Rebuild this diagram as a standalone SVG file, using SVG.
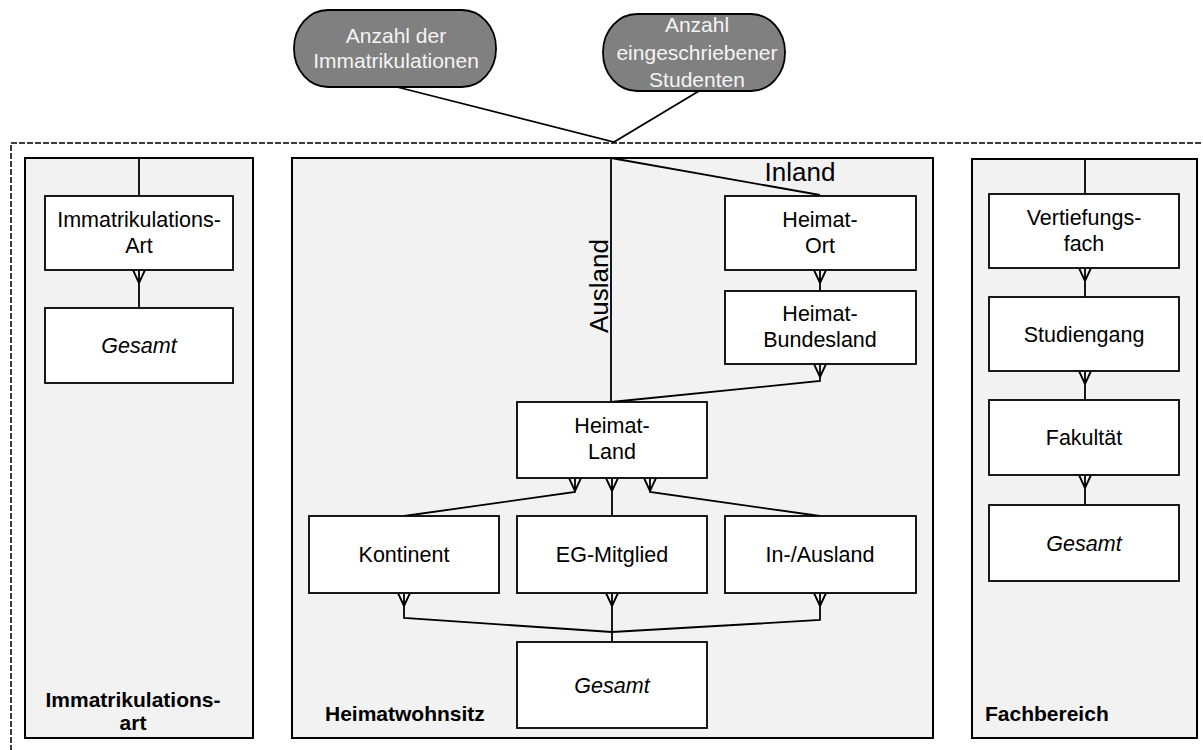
<svg xmlns="http://www.w3.org/2000/svg" width="1203" height="750" viewBox="0 0 1203 750">
  <style>
    .panel { fill: #f2f2f2; stroke: #000; stroke-width: 2; }
    .box { fill: #fff; stroke: #000; stroke-width: 1.8; }
    .measure { fill: #808080; stroke: #000; stroke-width: 1.8; }
    .t { font-family: "Liberation Sans", Arial, sans-serif; font-size: 21.5px; fill: #000; text-anchor: middle; }
    .it { font-style: italic; }
    .mt { fill: #f4f4f4; font-size: 21px; }
    .lbl { font-family: "Liberation Sans", Arial, sans-serif; font-size: 21px; font-weight: bold; fill: #000; }
    .big { font-family: "Liberation Sans", Arial, sans-serif; font-size: 26px; fill: #000; text-anchor: middle; }
    .ln { fill: none; stroke: #000; stroke-width: 1.8; }
    .cube { fill: none; stroke: #000; stroke-width: 1.5; stroke-dasharray: 6 2; }
  </style>

  <!-- cube boundary -->
  <rect class="cube" x="11" y="143" width="1200" height="620"/>

  <!-- dimension panels -->
  <g id="dim-immatrikulationsart">
    <rect class="panel" x="25" y="158" width="228" height="580"/>
    <text class="lbl" x="133" y="707" text-anchor="middle">Immatrikulations-</text>
    <text class="lbl" x="133" y="730" text-anchor="middle">art</text>
  </g>
  <g id="dim-heimatwohnsitz">
    <rect class="panel" x="292" y="158" width="641" height="580"/>
    <text class="lbl" x="325" y="721">Heimatwohnsitz</text>
  </g>
  <g id="dim-fachbereich">
    <rect class="panel" x="972" y="159" width="225" height="579"/>
    <text class="lbl" x="985" y="721">Fachbereich</text>
  </g>

  <!-- connectors -->
  <g id="connectors">
    <!-- measures to cube -->
    <path class="ln" d="M397 87 L614 142 L699 91"/>
    <!-- Immatrikulationsart -->
    <path class="ln" d="M139 158 V196"/>
    <path class="ln" d="M139 270 V308 M133 270 L139 283 L145 270"/>
    <!-- Heimatwohnsitz: Ausland / Inland -->
    <path class="ln" d="M611 158 V402"/>
    <path class="ln" d="M611 158 L820 195"/>
    <path class="ln" d="M820 270 V291 M814 270 L820 283 L826 270"/>
    <path class="ln" d="M820 364 V381 L611 402 M814 364 L820 377 L826 364"/>
    <!-- Heimat-Land to groupings -->
    <path class="ln" d="M575 478 V492 L404 516 M569 478 L575 491 L581 478"/>
    <path class="ln" d="M612 478 V516 M606 478 L612 491 L618 478"/>
    <path class="ln" d="M650 478 V492 L820 516 M644 478 L650 491 L656 478"/>
    <!-- groupings to Gesamt -->
    <path class="ln" d="M404 593 V618 L612 632 M398 593 L404 606 L410 593"/>
    <path class="ln" d="M612 593 V642 M606 593 L612 606 L618 593"/>
    <path class="ln" d="M820 593 V620 L612 632 M814 593 L820 606 L826 593"/>
    <!-- Fachbereich -->
    <path class="ln" d="M1085 159 V194"/>
    <path class="ln" d="M1085 268 V297 M1079 268 L1085 281 L1091 268"/>
    <path class="ln" d="M1085 371 V400 M1079 371 L1085 384 L1091 371"/>
    <path class="ln" d="M1085 475 V505 M1079 475 L1085 488 L1091 475"/>
  </g>

  <!-- edge labels -->
  <text class="big" x="800" y="181">Inland</text>
  <text class="big" transform="translate(608 286) rotate(-90)">Ausland</text>

  <!-- measures -->
  <g id="m-immatrikulationen">
    <rect class="measure" x="294" y="10" width="202" height="77" rx="34" ry="38"/>
    <text class="t mt" x="396" y="43">Anzahl der</text>
    <text class="t mt" x="396" y="68">Immatrikulationen</text>
  </g>
  <g id="m-studenten">
    <rect class="measure" x="603" y="14" width="182" height="77" rx="34" ry="38"/>
    <text class="t mt" x="697" y="32">Anzahl</text>
    <text class="t mt" x="697" y="60">eingeschriebener</text>
    <text class="t mt" x="697" y="87">Studenten</text>
  </g>

  <!-- Immatrikulationsart levels -->
  <g id="n-immatrikulationsart">
    <rect class="box" x="45" y="196" width="188" height="74"/>
    <text class="t" x="139" y="227">Immatrikulations-</text>
    <text class="t" x="139" y="253">Art</text>
  </g>
  <g id="n-gesamt-ia">
    <rect class="box" x="45" y="308" width="188" height="75"/>
    <text class="t it" x="139" y="353">Gesamt</text>
  </g>

  <!-- Heimatwohnsitz levels -->
  <g id="n-heimatort">
    <rect class="box" x="725" y="196" width="191" height="74"/>
    <text class="t" x="820" y="227">Heimat-</text>
    <text class="t" x="820" y="253">Ort</text>
  </g>
  <g id="n-heimatbundesland">
    <rect class="box" x="725" y="291" width="191" height="73"/>
    <text class="t" x="820" y="321">Heimat-</text>
    <text class="t" x="820" y="347">Bundesland</text>
  </g>
  <g id="n-heimatland">
    <rect class="box" x="517" y="402" width="190" height="76"/>
    <text class="t" x="612" y="433">Heimat-</text>
    <text class="t" x="612" y="459">Land</text>
  </g>
  <g id="n-kontinent">
    <rect class="box" x="309" y="516" width="190" height="77"/>
    <text class="t" x="404" y="562">Kontinent</text>
  </g>
  <g id="n-egmitglied">
    <rect class="box" x="517" y="516" width="190" height="77"/>
    <text class="t" x="612" y="562">EG-Mitglied</text>
  </g>
  <g id="n-inausland">
    <rect class="box" x="725" y="516" width="191" height="77"/>
    <text class="t" x="820" y="562">In-/Ausland</text>
  </g>
  <g id="n-gesamt-hw">
    <rect class="box" x="517" y="642" width="190" height="86"/>
    <text class="t it" x="612" y="693">Gesamt</text>
  </g>

  <!-- Fachbereich levels -->
  <g id="n-vertiefungsfach">
    <rect class="box" x="989" y="194" width="190" height="74"/>
    <text class="t" x="1084" y="225">Vertiefungs-</text>
    <text class="t" x="1084" y="251">fach</text>
  </g>
  <g id="n-studiengang">
    <rect class="box" x="989" y="297" width="190" height="74"/>
    <text class="t" x="1084" y="342">Studiengang</text>
  </g>
  <g id="n-fakultaet">
    <rect class="box" x="989" y="400" width="190" height="75"/>
    <text class="t" x="1084" y="445">Fakultät</text>
  </g>
  <g id="n-gesamt-fb">
    <rect class="box" x="989" y="505" width="190" height="76"/>
    <text class="t it" x="1084" y="551">Gesamt</text>
  </g>
</svg>
